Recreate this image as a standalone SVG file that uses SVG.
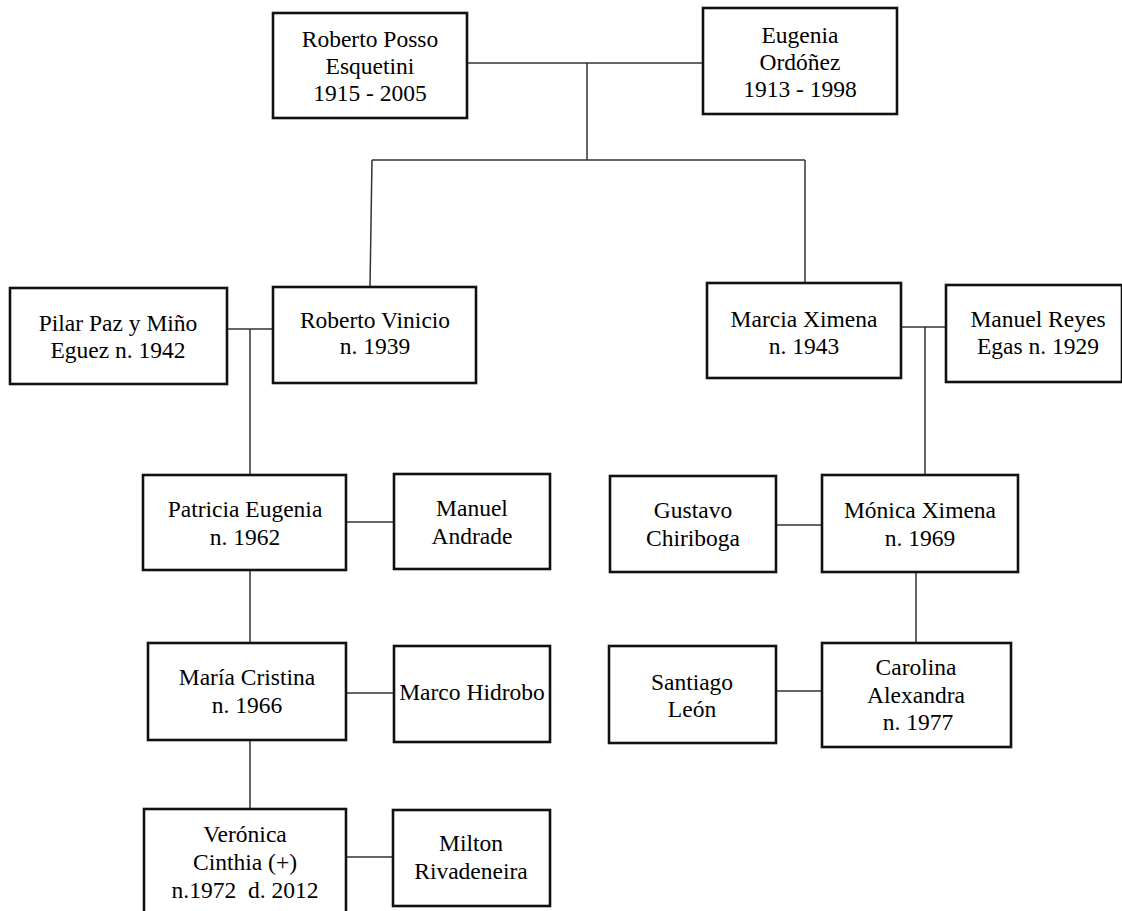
<svg xmlns="http://www.w3.org/2000/svg" width="1122" height="911" viewBox="0 0 1122 911">
  <style>
    .box { fill: #ffffff; stroke: #111111; stroke-width: 2.6; }
    .lbl { font-family: "Liberation Serif", "Times New Roman", serif; font-size: 23.5px; fill: #000000; text-anchor: middle; white-space: pre; }
    .link { fill: none; stroke: #333333; stroke-width: 1.5; }
  </style>
  <rect width="1122" height="911" fill="#ffffff"/>

  <!-- connectors -->
  <g id="connectors">
    <!-- founding couple and their children -->
    <path class="link" d="M467 63 H703"/>
    <path class="link" d="M587 63 V160"/>
    <path class="link" d="M372 160 H805"/>
    <path class="link" d="M372 160 L370 287"/>
    <path class="link" d="M805 160 V283"/>
    <!-- Roberto Vinicio branch -->
    <path class="link" d="M227 329 H273"/>
    <path class="link" d="M250 329 V475"/>
    <path class="link" d="M346 522 H394"/>
    <path class="link" d="M250 570 V643"/>
    <path class="link" d="M346 693 H394"/>
    <path class="link" d="M250 740 V809"/>
    <path class="link" d="M346 857 H393"/>
    <!-- Marcia Ximena branch -->
    <path class="link" d="M901 327 H946"/>
    <path class="link" d="M925 327 V475"/>
    <path class="link" d="M776 525 H822"/>
    <path class="link" d="M916 572 V643"/>
    <path class="link" d="M776 691 H822"/>
  </g>

  <g id="roberto-posso">
    <rect class="box" x="273" y="13" width="194" height="105"/>
    <text class="lbl" x="370" y="47">Roberto Posso</text>
    <text class="lbl" x="370" y="74">Esquetini</text>
    <text class="lbl" x="370" y="101">1915 - 2005</text>
  </g>

  <g id="eugenia-ordonez">
    <rect class="box" x="703" y="8" width="194" height="106"/>
    <text class="lbl" x="800" y="43">Eugenia</text>
    <text class="lbl" x="800" y="70">Ordóñez</text>
    <text class="lbl" x="800" y="97">1913 - 1998</text>
  </g>

  <g id="pilar-paz">
    <rect class="box" x="10" y="288" width="217" height="96"/>
    <text class="lbl" x="118" y="331">Pilar Paz y Miño</text>
    <text class="lbl" x="118" y="358">Eguez n. 1942</text>
  </g>

  <g id="roberto-vinicio">
    <rect class="box" x="273" y="287" width="203" height="96"/>
    <text class="lbl" x="375" y="328">Roberto Vinicio</text>
    <text class="lbl" x="375" y="354">n. 1939</text>
  </g>

  <g id="marcia-ximena">
    <rect class="box" x="707" y="283" width="194" height="95"/>
    <text class="lbl" x="804" y="327">Marcia Ximena</text>
    <text class="lbl" x="804" y="354">n. 1943</text>
  </g>

  <g id="manuel-reyes">
    <rect class="box" x="946" y="285" width="176" height="97"/>
    <text class="lbl" x="1038" y="327">Manuel Reyes</text>
    <text class="lbl" x="1038" y="354">Egas n. 1929</text>
  </g>

  <g id="patricia-eugenia">
    <rect class="box" x="143" y="475" width="203" height="95"/>
    <text class="lbl" x="245" y="517">Patricia Eugenia</text>
    <text class="lbl" x="245" y="545">n. 1962</text>
  </g>

  <g id="manuel-andrade">
    <rect class="box" x="394" y="474" width="156" height="95"/>
    <text class="lbl" x="472" y="516">Manuel</text>
    <text class="lbl" x="472" y="544">Andrade</text>
  </g>

  <g id="gustavo-chiriboga">
    <rect class="box" x="610" y="476" width="166" height="96"/>
    <text class="lbl" x="693" y="518">Gustavo</text>
    <text class="lbl" x="693" y="546">Chiriboga</text>
  </g>

  <g id="monica-ximena">
    <rect class="box" x="822" y="475" width="196" height="97"/>
    <text class="lbl" x="920" y="518">Mónica Ximena</text>
    <text class="lbl" x="920" y="546">n. 1969</text>
  </g>

  <g id="maria-cristina">
    <rect class="box" x="148" y="643" width="198" height="97"/>
    <text class="lbl" x="247" y="685">María Cristina</text>
    <text class="lbl" x="247" y="713">n. 1966</text>
  </g>

  <g id="marco-hidrobo">
    <rect class="box" x="394" y="646" width="156" height="96"/>
    <text class="lbl" x="472" y="700">Marco Hidrobo</text>
  </g>

  <g id="santiago-leon">
    <rect class="box" x="609" y="646" width="167" height="97"/>
    <text class="lbl" x="692" y="690">Santiago</text>
    <text class="lbl" x="692" y="717">León</text>
  </g>

  <g id="carolina-alexandra">
    <rect class="box" x="822" y="643" width="189" height="104"/>
    <text class="lbl" x="916" y="675">Carolina</text>
    <text class="lbl" x="916" y="703">Alexandra</text>
    <text class="lbl" x="918" y="730">n. 1977</text>
  </g>

  <g id="veronica-cinthia">
    <rect class="box" x="144" y="809" width="202" height="110"/>
    <text class="lbl" x="245" y="842">Verónica</text>
    <text class="lbl" x="245" y="870">Cinthia (+)</text>
    <text class="lbl" x="245" y="898">n.1972  d. 2012</text>
  </g>

  <g id="milton-rivadeneira">
    <rect class="box" x="393" y="810" width="157" height="96"/>
    <text class="lbl" x="471" y="851">Milton</text>
    <text class="lbl" x="471" y="879">Rivadeneira</text>
  </g>
</svg>
